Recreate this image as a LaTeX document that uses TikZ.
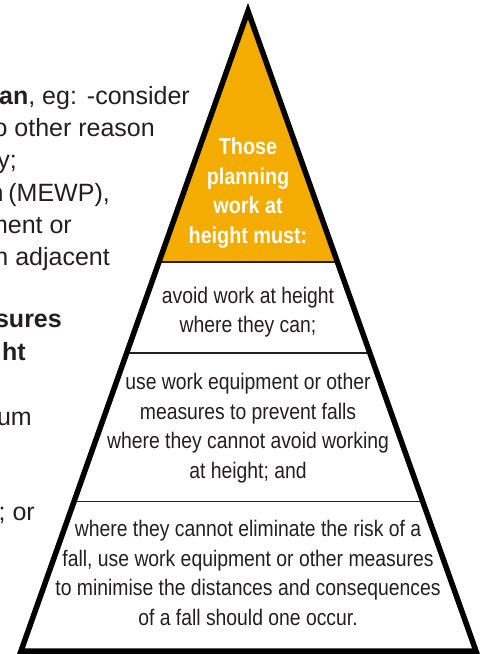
\documentclass[tikz,border=0pt]{standalone}
\usepackage{fontspec}
\setmainfont{Liberation Sans}
\newfontfamily\narrowsans[FakeStretch=0.86]{Liberation Sans}
\usetikzlibrary{calc}
\definecolor{ladder}{RGB}{245,172,0}
\definecolor{ink}{RGB}{35,31,32}
\tikzset{
	sidetext/.style={anchor=base east, inner sep=0pt, text=ink, font=\fontsize{25}{32}\selectfont},
	tiertext/.style={align=center, inner sep=0pt, text=ink, font=\narrowsans\fontsize{22.5}{29.5}\selectfont},
	toptext/.style={align=center, inner sep=0pt, text=white, font=\narrowsans\bfseries\fontsize{23}{29.5}\selectfont},
	divider/.style={draw=ink, line width=1.5pt}
}

\begin{document}
\begin{tikzpicture}[x=1pt, y=-1pt]
	\useasboundingbox (0,0) rectangle (482,654);
	\clip (0,0) rectangle (482,654);
	\coordinate (apex) at (248,11);
	\coordinate (bl) at (21,651);
	\coordinate (br) at (476,651);
	\begin{scope}
		\fill [ladder] (apex) -- ($(apex)!0.392!(bl)$) -- ($(apex)!0.392!(br)$) -- cycle;
		\draw [divider, line width=2pt] ($(apex)!0.392!(bl)$) -- ($(apex)!0.392!(br)$);
		\draw [divider] ($(apex)!0.534!(bl)$) -- ($(apex)!0.534!(br)$);
		\draw [divider] ($(apex)!0.766!(bl)$) -- ($(apex)!0.766!(br)$);
		\draw [line width=5.5pt, miter limit=10] (apex) -- (bl) -- (br) -- cycle;
	\end{scope}
	\begin{scope}
		\node [toptext] (must) at (248,193) {Those\\planning\\work at\\height must:};
		\node [tiertext] (avoid) at (248,312) {avoid work at height\\where they can;};
		\node [tiertext] (prevent) at (248,428) {use work equipment or other\\measures to prevent falls\\where they cannot avoid working\\at height; and};
		\node [tiertext] (minimise) at (248,573) {where they cannot eliminate the risk of a\\fall, use work equipment or other measures\\to minimise the distances and consequences\\of a fall should one occur.};
	\end{scope}
	\begin{scope}
		\node [sidetext] (can) at (190,104) {\textbf{an}, eg:\hspace{10pt}-consider};
		\node [sidetext] (reason) at (155,136) {o other reason};
		\node [sidetext] (only) at (17,168) {y;};
		\node [sidetext] (mewp) at (110,201) {n\kern-2pt{} (MEWP),};
		\node [sidetext] (perm) at (72,233) {ment or};
		\node [sidetext] (adj) at (110,265) {n adjacent};
		\node [sidetext] (meas) at (62,327) {\textbf{sures}};
		\node [sidetext] (hgt) at (26,360) {\textbf{ht}};
		\node [sidetext] (mini) at (32,425) {um};
		\node [sidetext] (orr) at (35,520) {; or};
	\end{scope}
\end{tikzpicture}
\end{document}
